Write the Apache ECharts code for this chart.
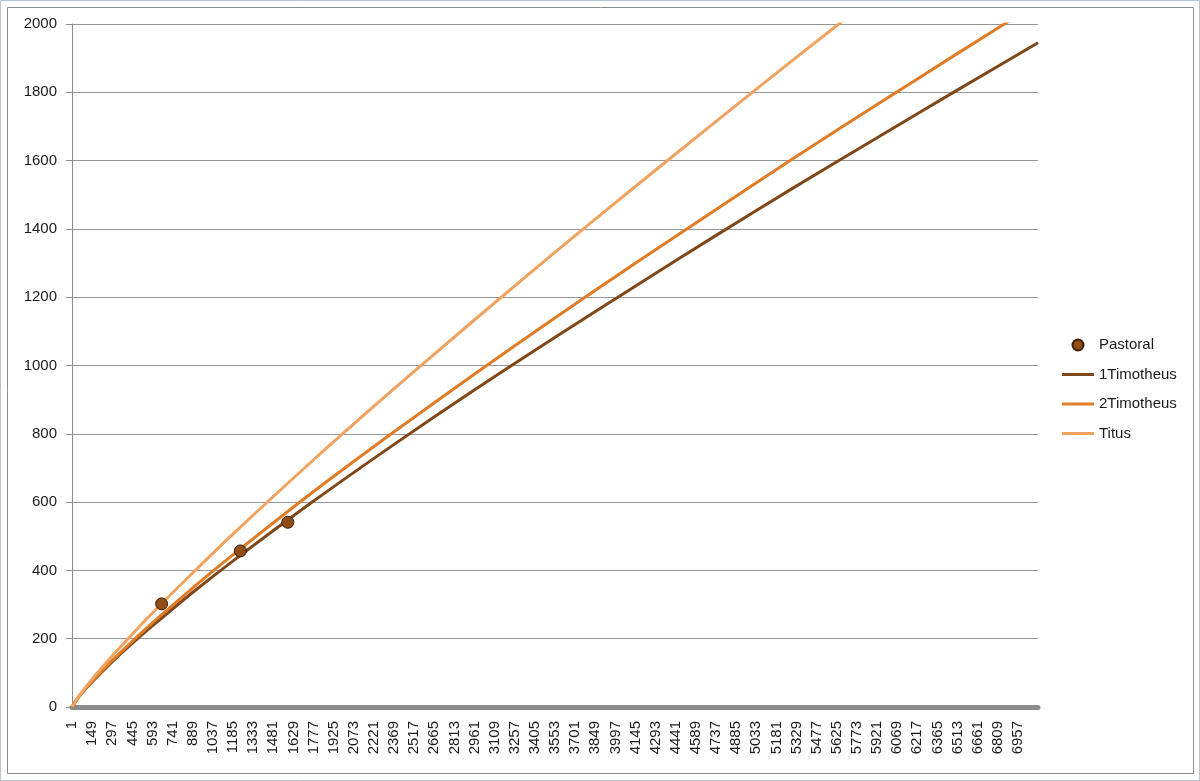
<!DOCTYPE html>
<html>
<head>
<meta charset="utf-8">
<script src="https://cdn.jsdelivr.net/npm/echarts@6/dist/echarts.min.js"></script>
<style>
html,body{margin:0;padding:0;background:#fff;}
#c{width:1200px;height:781px;}
</style>
</head>
<body>
<div id="c"></div>
<script>
// x positions (word tokens) where the curves were read
const xSamples = [1, 50, 149, 297, 445, 593, 889, 1185, 1777, 2369, 2961, 3553, 4145, 4737, 5329, 5921, 6513, 7104];
const tim1Values  = [0, 30, 74, 133, 187, 238, 336, 428, 603, 769, 929, 1083, 1233, 1381, 1526, 1667, 1807, 1945];
const tim2Values  = [0, 30, 76, 137, 193, 247, 349, 446, 631, 806, 975, 1140, 1300, 1457, 1613, 1764, 1914, 2062];
const titusValues = [0, 31, 82, 150, 214, 276, 393, 507, 724, 932, 1134, 1332, 1525, 1715, 1903, 2088, 2271, 2451];
// Pastoral points
const pastoralX = [659, 1238, 1587];
const pastoralY = [302, 457, 541];
// category tick labels on the x axis
const tickLabels = ['1','149','297','445','593','741','889','1037','1185','1333','1481','1629','1777','1925','2073','2221','2369','2517','2665','2813','2961','3109','3257','3405','3553','3701','3849','3997','4145','4293','4441','4589','4737','4885','5033','5181','5329','5477','5625','5773','5921','6069','6217','6365','6513','6661','6809','6957'];
const seriesNames = ['Pastoral', '1Timotheus', '2Timotheus', 'Titus'];

const pair = (xs, ys) => xs.map((x, i) => [x, ys[i]]);
const FONT = 'Liberation Sans';
const LINE_ICON = 'path://M0,0 L32,0 L32,3 L0,3 Z';

const chart = echarts.init(document.getElementById('c'), null, {renderer: 'canvas'});
chart.setOption({
  animation: false,
  backgroundColor: '#ffffff',
  textStyle: {fontFamily: FONT},
  graphic: [
    {type: 'rect', shape: {x: 0.5, y: 0.5, width: 1199, height: 780}, style: {fill: 'none', stroke: '#b7c4d3', lineWidth: 1}, silent: true},
    {type: 'rect', shape: {x: 7.5, y: 7.5, width: 1186, height: 766}, style: {fill: 'none', stroke: '#8e8e8e', lineWidth: 1}, silent: true}
  ],
  grid: {left: 72, right: 162, top: 24, bottom: 74, containLabel: false},
  legend: {
    orient: 'vertical',
    left: 1062,
    top: 336,
    padding: 0,
    itemWidth: 32,
    itemHeight: 11,
    itemGap: 11.5,
    symbolKeepAspect: true,
    data: [
      {name: seriesNames[0], icon: 'circle'},
      {name: seriesNames[1], icon: LINE_ICON},
      {name: seriesNames[2], icon: LINE_ICON},
      {name: seriesNames[3], icon: LINE_ICON}
    ],
    textStyle: {fontFamily: FONT, fontSize: 15, color: '#1a1a1a', lineHeight: 18}
  },
  xAxis: {
    type: 'value',
    min: 0,
    max: 7104,
    interval: 148,
    offset: 2,
    axisLine: {show: true, lineStyle: {color: '#8c8c8c', width: 5}},
    axisTick: {show: false},
    splitLine: {show: false},
    axisLabel: {
      rotate: 90,
      margin: 12,
      fontFamily: FONT,
      fontSize: 15,
      color: '#1a1a1a',
      showMaxLabel: true,
      showMinLabel: true,
      formatter: v => {
        const i = Math.round(v / 148);
        return tickLabels[i] !== undefined ? tickLabels[i] : '';
      }
    }
  },
  yAxis: {
    type: 'value',
    min: 0,
    max: 2000,
    interval: 200,
    axisLine: {show: true, lineStyle: {color: '#8c8c8c', width: 1}},
    axisTick: {show: true, length: 6, lineStyle: {color: '#8c8c8c'}},
    splitLine: {show: true, lineStyle: {color: '#969696', width: 1}},
    axisLabel: {margin: 15, fontFamily: FONT, fontSize: 15, color: '#1a1a1a', formatter: v => String(v)}
  },
  series: [
    {
      name: seriesNames[0], type: 'scatter', z: 5,
      symbol: 'circle', symbolSize: 12,
      itemStyle: {color: '#934c14', borderColor: '#3a1f06', borderWidth: 1, opacity: 1},
      data: pair(pastoralX, pastoralY)
    },
    {
      name: seriesNames[1], type: 'line', smooth: 0.3, symbol: 'none', clip: true,
      lineStyle: {color: '#804819', width: 3}, itemStyle: {color: '#804819'},
      data: pair(xSamples, tim1Values)
    },
    {
      name: seriesNames[2], type: 'line', smooth: 0.3, symbol: 'none', clip: true,
      lineStyle: {color: '#e07c26', width: 3}, itemStyle: {color: '#e07c26'},
      data: pair(xSamples, tim2Values)
    },
    {
      name: seriesNames[3], type: 'line', smooth: 0.3, symbol: 'none', clip: true,
      lineStyle: {color: '#f0a35e', width: 3}, itemStyle: {color: '#f0a35e'},
      data: pair(xSamples, titusValues)
    }
  ]
});
</script>
</body>
</html>
